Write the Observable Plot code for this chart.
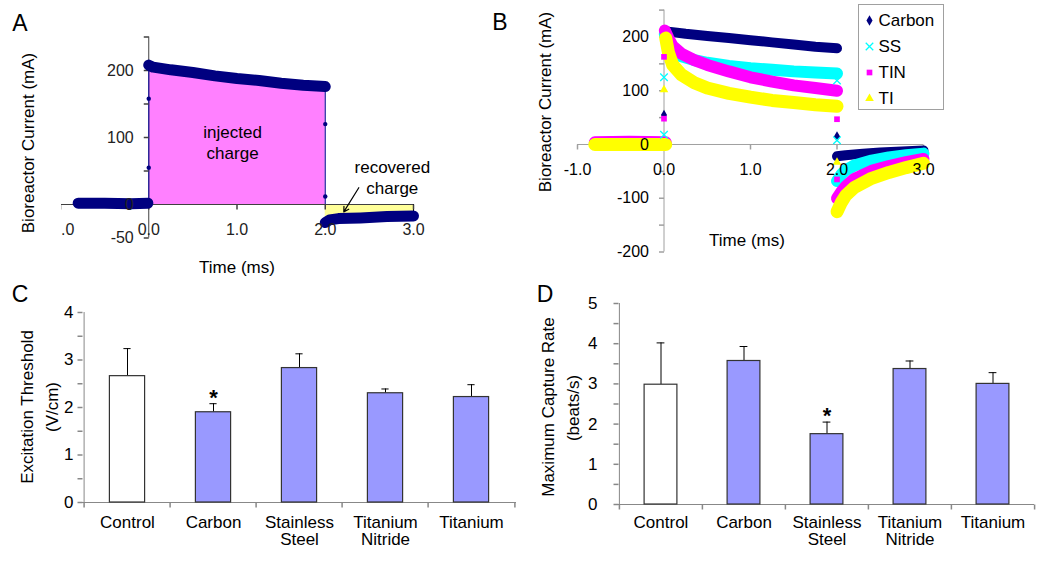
<!DOCTYPE html>
<html><head><meta charset="utf-8">
<script src="https://cdn.jsdelivr.net/npm/d3@7"></script>
<script src="https://cdn.jsdelivr.net/npm/@observablehq/plot@0.6"></script>
<style>
body{margin:0;background:#fff;}
#fig{position:relative;width:1050px;height:563px;overflow:hidden;background:#fff;font-family:"Liberation Sans",Arial,sans-serif;}
.lbl{position:absolute;white-space:nowrap;line-height:1;color:#000;}
</style></head><body><div id="fig"></div>
<script>
// ---------- Panel A data: [time (ms), current (mA)] ----------
const aBaseline = [[-0.8, 2], [-0.5, 2], [-0.2, 1], [-0.01, 2]];
const aPulse = [[0.0, 208], [0.05, 205], [0.25, 201], [0.5, 197], [0.75, 192], [1.0, 188], [1.25, 185], [1.5, 181], [1.75, 178], [2.0, 176]];
const aRecovery = [[2.0, -27], [2.05, -23], [2.15, -21], [2.4, -20], [2.7, -18], [3.0, -17]];
const aTransients = [[0, 55], [0, 158], [2, 120], [2, 12]];
const aXTicks = [-1, 0, 1, 2, 3];
const aYTicks = [-50, 0, 50, 100, 150, 200, 250];
const aYLabels = [200, 100, 0, -50];
const aNotes = [{t: 0.95, v: 94, text: "injected\ncharge"}, {t: 2.76, v: 41, text: "recovered\ncharge"}];
const aArrow = [{t1: 2.38, v1: 25, t2: 2.21, v2: -11}];

// ---------- Panel B data ----------
const bSeries = ["Carbon", "SS", "TIN", "TI"];
const bColors = ["#000080", "#00FFFF", "#FF00FF", "#FFFF00"];
const bSymbols = ["diamond", "times", "square", "triangle"];
const carbonBase = [[-0.8, 0], [-0.4, 1], [0.02, 0]];
const carbonPulse = [[0.01, 212], [0.05, 210], [0.25, 206], [0.5, 202], [0.75, 198], [1.0, 194], [1.25, 190], [1.5, 186], [1.75, 182], [2.0, 179]];
const carbonPost = [[2.0, -22], [2.1, -20], [2.3, -17], [2.5, -15], [2.75, -13], [3.0, -11]];
const carbonSpikes = [[0, 55], [2, 15]];
const ssBase = [[-0.8, 1], [-0.4, 2], [0.02, 1]];
const ssPulse = [[0.01, 205], [0.05, 190], [0.1, 176], [0.2, 164], [0.35, 157], [0.5, 152], [0.75, 146], [1.0, 142], [1.25, 139], [1.5, 136], [1.75, 134], [2.0, 132]];
const ssPost = [[2.0, -68], [2.05, -56], [2.1, -48], [2.2, -39], [2.4, -30], [2.6, -24], [2.8, -20], [3.0, -17]];
const ssSpikes = [[0, 125], [0, 18], [2, 119], [2, 8]];
const tinBase = [[-0.8, 4], [-0.4, 5], [0.02, 4]];
const tinPulse = [[0.01, 212], [0.05, 198], [0.1, 183], [0.2, 169], [0.35, 157], [0.5, 148], [0.75, 136], [1.0, 125], [1.25, 117], [1.5, 110], [1.75, 105], [2.0, 100]];
const tinPost = [[2.0, -100], [2.05, -88], [2.1, -78], [2.2, -64], [2.4, -49], [2.6, -40], [2.8, -33], [3.0, -27]];
const tinSpikes = [[0, 163], [0, 48], [2, 47], [2, -65]];
const tiBase = [[-0.8, 0], [-0.4, 0], [0.02, 0]];
const tiPulse = [[0.02, 198], [0.05, 172], [0.1, 148], [0.2, 130], [0.35, 115], [0.5, 105], [0.75, 95], [1.0, 88], [1.25, 82], [1.5, 78], [1.75, 74], [2.0, 71]];
const tiPost = [[2.0, -125], [2.05, -108], [2.1, -95], [2.2, -80], [2.4, -63], [2.6, -52], [2.8, -43], [3.0, -35]];
const tiSpikes = [[0, 102], [2, -33]];
const bXTicks = [-1, 0, 1, 2, 3];
const bYTicks = [-200, -150, -100, -50, 0, 50, 100, 150, 200, 250];
const bYLabels = [200, 100, 0, -100, -200];

// ---------- Panels C & D data ----------
const categories = ["Control", "Carbon", "Stainless Steel", "Titanium Nitride", "Titanium"];
const categoryLabels = ["Control", "Carbon", "Stainless\nSteel", "Titanium\nNitride", "Titanium"];
const thresholdMean = [2.66, 1.90, 2.83, 2.30, 2.22];
const thresholdErr = [0.58, 0.18, 0.30, 0.09, 0.26];
const thresholdSig = ["Carbon"];
const captureMean = [2.98, 3.57, 1.75, 3.37, 3.00];
const captureErr = [1.04, 0.36, 0.30, 0.20, 0.28];
const captureSig = ["Stainless Steel"];
const thresholdTicks = [0, 0.5, 1, 1.5, 2, 2.5, 3, 3.5, 4];
const thresholdLabels = [0, 1, 2, 3, 4];
const captureTicks = [0, 0.5, 1, 1.5, 2, 2.5, 3, 3.5, 4, 4.5, 5];
const captureLabels = [0, 1, 2, 3, 4, 5];

// ---------- helpers ----------
const fig = document.getElementById("fig");
const FONT = '"Liberation Sans", Arial, sans-serif';
const XY = {x: d => d[0], y: d => d[1]};
const tickLeft = {draw(c) { c.moveTo(0, 0); c.lineTo(-5, 0); }};
const tickDown = {draw(c) { c.moveTo(0, 0); c.lineTo(0, 5); }};
function put(node, left, top, parent = fig) {
  node.style.position = "absolute"; node.style.left = left + "px"; node.style.top = top + "px";
  node.style.maxWidth = "none"; node.style.overflow = "visible";
  parent.appendChild(node); return node;
}
function label(text, cx, cy, size, rot = 0) {
  const d = document.createElement("div");
  d.className = "lbl"; d.textContent = text;
  d.style.left = cx + "px"; d.style.top = cy + "px"; d.style.fontSize = size + "px";
  d.style.transform = `translate(-50%,-50%) rotate(${rot}deg)`;
  fig.appendChild(d);
}
function symbolDot(data, i, extra = {}) {
  const sym = bSymbols[i], col = bColors[i];
  const stroked = sym === "times";
  return Plot.dot(data, {...XY, symbol: sym, r: stroked ? 3.5 : 3.2,
    fill: stroked ? "none" : col, stroke: stroked ? col : "none", strokeWidth: 1.3, ...extra});
}

// ---------- Panel A ----------
const axA = "#404040";
const plotA = Plot.plot({
  width: 440, height: 280, marginLeft: 60, marginRight: 27, marginTop: 36.5, marginBottom: 42.5,
  x: {domain: [-1, 3], axis: null}, y: {domain: [-50, 250], axis: null},
  style: {fontFamily: FONT, fontSize: "16px", background: "transparent", color: "#222"},
  marks: [
    Plot.areaY(aPulse, {x: d => d[0], y1: 0, y2: d => d[1], fill: "#FF80FF"}),
    Plot.areaY(aRecovery, {x: d => d[0], y1: 0, y2: d => d[1], fill: "#FFFF99"}),
    Plot.ruleY([0], {x1: -1, x2: 3, stroke: axA}),
    Plot.ruleX([0], {y1: -50, y2: 250, stroke: axA}),
    Plot.ruleX([aPulse[0], aPulse[aPulse.length - 1]], {x: d => d[0], y1: 0, y2: d => d[1], stroke: "#2020a0", strokeWidth: 1.2}),
    Plot.ruleX([aRecovery[aRecovery.length - 1]], {x: d => d[0], y1: 0, y2: d => d[1], stroke: "#000"}),
    Plot.dot(aYTicks, {x: 0, y: d => d, symbol: tickLeft, stroke: axA, fill: "none"}),
    Plot.dot(aXTicks, {x: d => d, y: 0, symbol: tickDown, stroke: axA, fill: "none"}),
    Plot.line(aBaseline, {...XY, stroke: "#000080", strokeWidth: 11, strokeLinecap: "round"}),
    Plot.line(aPulse, {...XY, stroke: "#000080", strokeWidth: 11, strokeLinecap: "round"}),
    Plot.line(aRecovery, {...XY, stroke: "#000080", strokeWidth: 11, strokeLinecap: "round"}),
    Plot.dot(aTransients, {...XY, r: 2.2, fill: "#000080"}),
    Plot.text(aXTicks, {x: d => d, frameAnchor: "bottom", lineAnchor: "middle", dy: -8, text: d => d.toFixed(1)}),
    Plot.text(aYLabels, {x: 0, y: d => d, dx: -15, textAnchor: "end", text: d => String(d)}),
    Plot.text(aNotes, {x: "t", y: "v", text: "text", fontSize: 17, lineHeight: 1.25, fill: "#000"}),
    Plot.arrow(aArrow, {x1: "t1", y1: "v1", x2: "t2", y2: "v2", stroke: "#000", strokeWidth: 1.2, headLength: 7})
  ]
});
const wrapA = document.createElement("div");
wrapA.style.cssText = "position:absolute;left:61px;top:0;width:379px;height:280px;overflow:hidden";
fig.appendChild(wrapA);
put(plotA, -61, 0, wrapA);

// ---------- Panel B ----------
const axB = "#a0a0a0";
const bData = [
  [carbonBase, carbonPulse, carbonPost, carbonSpikes, 10],
  [ssBase, ssPulse, ssPost, ssSpikes, 12],
  [tinBase, tinPulse, tinPost, tinSpikes, 12],
  [tiBase, tiPulse, tiPost, tiSpikes, 13]
];
const bLineMarks = [];
bData.forEach(([base, pulse, post, spikes, w], i) => {
  for (const seg of [base, pulse, post]) {
    bLineMarks.push(Plot.line(seg, {...XY, stroke: bColors[i], strokeWidth: w, strokeLinecap: "round"}));
  }
});
const bDotMarks = bData.map(([, , , spikes], i) => symbolDot(spikes, i));
const plotB = Plot.plot({
  width: 530, height: 262, marginLeft: 137, marginRight: 47, marginTop: 9.6, marginBottom: 10.5,
  x: {domain: [-1, 3], axis: null}, y: {domain: [-200, 250], axis: null},
  style: {fontFamily: FONT, fontSize: "16px", background: "transparent", color: "#000"},
  marks: [
    Plot.ruleY([0], {x1: -1, x2: 3, stroke: axB}),
    Plot.ruleX([0], {y1: -200, y2: 250, stroke: axB}),
    Plot.dot(bYTicks, {x: 0, y: d => d, symbol: tickLeft, stroke: axB, fill: "none"}),
    Plot.dot(bXTicks, {x: d => d, y: 0, symbol: tickDown, stroke: axB, fill: "none"}),
    ...bLineMarks,
    ...bDotMarks,
    Plot.text(bXTicks, {x: d => d, y: 0, dy: 25, text: d => d.toFixed(1)}),
    Plot.text(bYLabels, {x: 0, y: d => d, dx: -15, textAnchor: "end", text: d => String(d)})
  ]
});
put(plotB, 440, 0);

// legend for B
const legendB = Plot.plot({
  width: 84, height: 104, marginTop: 14, marginBottom: 11, marginLeft: 0, marginRight: 0,
  x: {domain: [0, 1], axis: null}, y: {type: "point", domain: bSeries, padding: 0, axis: null},
  style: {fontFamily: FONT, fontSize: "17px", background: "white", color: "#000"},
  marks: [
    ...bSeries.map((s, i) => {
      const sym = bSymbols[i], col = bColors[i], stroked = sym === "times";
      return Plot.dot([s], {y: d => d, frameAnchor: "left", dx: 10, symbol: sym, r: stroked ? 3.5 : 3.2,
        fill: stroked ? "none" : col, stroke: stroked ? col : "none", strokeWidth: 1.3});
    }),
    Plot.text(bSeries, {y: d => d, frameAnchor: "left", dx: 19, textAnchor: "start", text: d => d})
  ]
});
legendB.style.border = "1px solid #a0a0a0";
legendB.style.boxSizing = "content-box";
put(legendB, 858, 4);

// ---------- Panels C & D ----------
function barPanel(o) {
  const plotW = o.width - o.mL - o.mR;
  const bw = plotW / categories.length;
  const inset = (bw - o.barW) / 2;
  const capInset = (bw - 8) / 2;
  const idx = d3.range(categories.length);
  const ax = "#888";
  const top = i => o.means[i] + o.errs[i];
  const p = Plot.plot({
    width: o.width, height: o.height, marginLeft: o.mL, marginRight: o.mR, marginTop: o.mT, marginBottom: o.mB,
    x: {type: "band", domain: categories, padding: 0, axis: null},
    y: {domain: [0, o.yMax], axis: null},
    style: {fontFamily: FONT, fontSize: "17px", background: "transparent", color: "#000"},
    marks: [
      Plot.ruleX([categories[0]], {x: d => d, y1: 0, y2: o.yMax, dx: -bw / 2, stroke: ax}),
      Plot.ruleY([0], {stroke: ax}),
      Plot.dot(o.ticks, {frameAnchor: "left", y: d => d, symbol: tickLeft, stroke: ax, fill: "none"}),
      Plot.dot(categories, {x: d => d, y: 0, dx: -bw / 2, symbol: tickDown, stroke: ax, fill: "none"}),
      Plot.dot([categories[categories.length - 1]], {x: d => d, y: 0, dx: bw / 2, symbol: tickDown, stroke: ax, fill: "none"}),
      Plot.ruleX(idx, {x: i => categories[i], y1: i => o.means[i], y2: top, stroke: "#000", strokeWidth: 1}),
      Plot.tickY(idx, {x: i => categories[i], y: top, insetLeft: capInset, insetRight: capInset, stroke: "#000", strokeWidth: 1}),
      Plot.barY(idx.filter(i => i === 0), {x: i => categories[i], y: i => o.means[i], fill: "white", stroke: "#333", strokeWidth: 1.2, insetLeft: inset, insetRight: inset}),
      Plot.barY(idx.filter(i => i > 0), {x: i => categories[i], y: i => o.means[i], fill: "#9999FF", stroke: "#333", strokeWidth: 1.2, insetLeft: inset, insetRight: inset}),
      Plot.text(o.sig, {x: d => d, y: d => top(categories.indexOf(d)), dy: -6, text: () => "*", fontSize: 22, fontWeight: "bold"}),
      Plot.text(o.labels, {frameAnchor: "left", y: d => d, dx: -o.labelGap, textAnchor: "end", text: d => String(d)}),
      Plot.text(idx, {x: i => categories[i], text: i => categoryLabels[i], frameAnchor: "bottom", lineAnchor: "top", dy: o.catDy, lineHeight: 1.0})
    ]
  });
  put(p, o.left, o.top);
}
barPanel({left: 0, top: 290, width: 520, height: 263, mL: 82, mR: 4, mT: 22, mB: 51, yMax: 4,
  means: thresholdMean, errs: thresholdErr, sig: thresholdSig, ticks: thresholdTicks, labels: thresholdLabels,
  barW: 36, labelGap: 9, catDy: 13});
barPanel({left: 520, top: 290, width: 530, height: 263, mL: 98, mR: 16, mT: 13, mB: 49, yMax: 5,
  means: captureMean, errs: captureErr, sig: captureSig, ticks: captureTicks, labels: captureLabels,
  barW: 33, labelGap: 21, catDy: 11});

// ---------- titles & panel letters ----------
label("A", 20, 22.5, 23);
label("B", 500, 21.5, 23);
label("C", 20, 293.5, 23);
label("D", 545, 293.5, 23);
label("Bioreactor Current (mA)", 28, 142.5, 17, -90);
label("Time (ms)", 237, 267, 17);
label("Bioreactor Current (mA)", 545, 102, 17, -90);
label("Time (ms)", 747, 240, 17);
label("Excitation Threshold", 27, 407, 17, -90);
label("(V/cm)", 52, 407, 17, -90);
label("Maximum Capture Rate", 548, 407, 17, -90);
label("(beats/s)", 573, 408, 17, -90);
</script></body></html>
